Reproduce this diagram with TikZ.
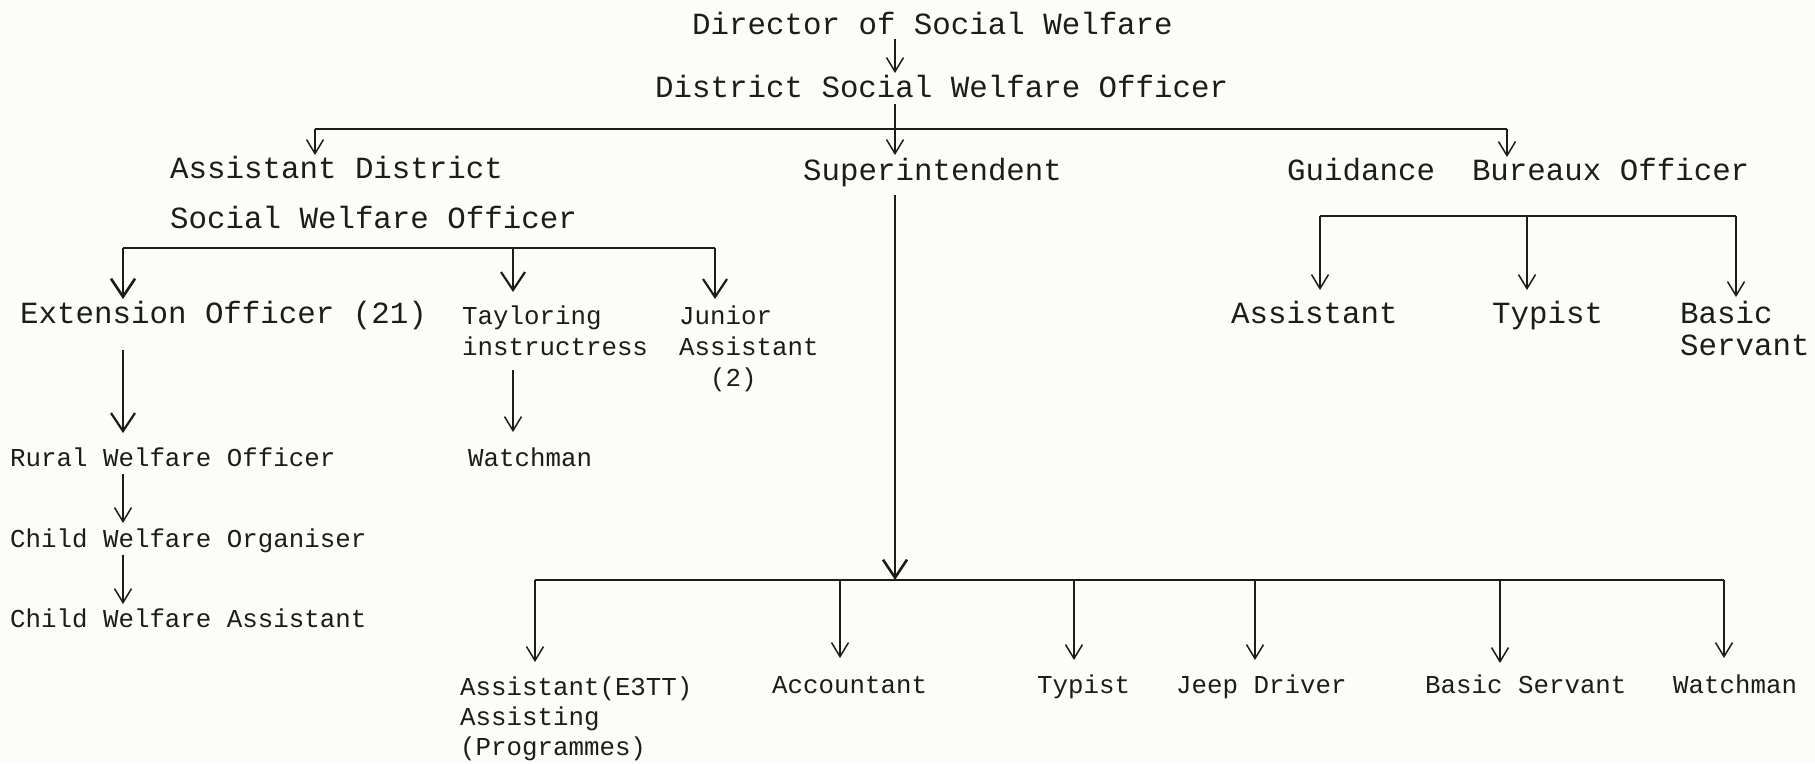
\documentclass[tikz,border=0pt]{standalone}
\usepackage{fontspec}
\setmainfont{Liberation Mono}
\usetikzlibrary{arrows.meta}
\definecolor{ink}{RGB}{28,28,28}
\definecolor{paper}{RGB}{252,252,248}
\begin{document}
\begin{tikzpicture}[x=1pt,y=-1pt,
  big/.style={font=\fontsize{30.8}{32}\selectfont, anchor=base west, inner sep=0pt, text=ink, align=left},
  small/.style={font=\fontsize{25.8}{31}\selectfont, anchor=base west, inner sep=0pt, text=ink, align=left},
  bus/.style={draw=ink, line width=2pt},
  arr/.style={draw=ink, line width=1.5pt, -{Straight Barb[length=14pt,width=17pt,line width=1.5pt]}},
  marr/.style={draw=ink, line width=1.6pt, -{Straight Barb[length=18pt,width=24pt,line width=2.2pt]}},
  barr/.style={draw=ink, line width=2pt, -{Straight Barb[length=18pt,width=24pt,line width=2.6pt]}}]
\useasboundingbox[fill=paper] (0,0) rectangle (1815,763);

% ---------- nodes (anchor = baseline of the last line) ----------
\node[big] (dir) at (692,34) {Director of Social Welfare};
\node[big] (dsw) at (655,97) {District Social Welfare Officer};
\node[big, font=\fontsize{30.8}{50}\selectfont] (adsw) at (170,228) {Assistant District\\Social Welfare Officer};
\node[big] (sup) at (803,180) {Superintendent};
\node[big] (gbo) at (1287,180) {Guidance\ \ Bureaux Officer};
\node[big] (gass) at (1231,323) {Assistant};
\node[big] (gtyp) at (1492,323) {Typist};
\node[big] (gbs) at (1680,355) {Basic\\Servant};
\node[big] (ext) at (20,323) {Extension Officer (21)};
\node[small] (tay) at (462,355) {Tayloring\\instructress};
\node[small] (jun) at (679,386) {Junior\\Assistant\\\hspace*{31pt}(2)};
\node[small] (rwo) at (10,466) {Rural Welfare Officer};
\node[small] (wat1) at (468,466) {Watchman};
\node[small] (cwo) at (10,547) {Child Welfare Organiser};
\node[small] (cwa) at (10,627) {Child Welfare Assistant};
\node[small, font=\fontsize{25.8}{30}\selectfont] (aet) at (460,755) {Assistant(E3TT)\\Assisting\\(Programmes)};
\node[small] (acc) at (772,693) {Accountant};
\node[small] (typ) at (1037,693) {Typist};
\node[small] (jeep) at (1176,693) {Jeep Driver};
\node[small] (bsv) at (1425,693) {Basic Servant};
\node[small] (wat2) at (1673,693) {Watchman};

% ---------- coordinates ----------
\coordinate (d0) at (895,39);   \coordinate (d1) at (895,73);
\coordinate (m0) at (895,104);  \coordinate (m1) at (895,155);
\coordinate (tl) at (315,129);  \coordinate (tr) at (1507,129);
\coordinate (tadsw) at (315,155); \coordinate (tgbo) at (1507,157);

\coordinate (gl) at (1320,216); \coordinate (gm) at (1527,216); \coordinate (gr) at (1736,216);
\coordinate (tgass) at (1320,290); \coordinate (tgtyp) at (1527,290); \coordinate (tgbs) at (1736,297);

\coordinate (ll) at (123,248); \coordinate (lm) at (513,248); \coordinate (lr) at (715,248);
\coordinate (text) at (123,299); \coordinate (ttay) at (513,292); \coordinate (tjun) at (715,299);

\coordinate (e0) at (123,350); \coordinate (e1) at (123,433);
\coordinate (r0) at (123,474); \coordinate (r1) at (123,523);
\coordinate (o0) at (123,555); \coordinate (o1) at (123,604);
\coordinate (w0) at (513,370); \coordinate (w1) at (513,432);

\coordinate (s0) at (895,195); \coordinate (s1) at (895,580);
\coordinate (bl) at (535,580); \coordinate (br) at (1724,580);
\coordinate (b2) at (840,580); \coordinate (b3) at (1074,580); \coordinate (b4) at (1255,580); \coordinate (b5) at (1500,580);
\coordinate (tb1) at (535,662); \coordinate (tb2) at (840,658); \coordinate (tb3) at (1074,660);
\coordinate (tb4) at (1255,660); \coordinate (tb5) at (1500,663); \coordinate (tb6) at (1724,658);

% ---------- connectors ----------
\draw[arr] (d0) -- (d1);
\draw[bus] (tl) -- (tr);
\draw[arr] (m0) -- (m1);
\draw[arr] (tl) -- (tadsw);
\draw[arr] (tr) -- (tgbo);

\draw[bus] (gl) -- (gr);
\draw[arr] (gl) -- (tgass);
\draw[arr] (gm) -- (tgtyp);
\draw[arr] (gr) -- (tgbs);

\draw[bus] (ll) -- (lr);
\draw[barr] (ll) -- (text);
\draw[marr] (lm) -- (ttay);
\draw[marr] (lr) -- (tjun);

\draw[marr] (e0) -- (e1);
\draw[arr] (r0) -- (r1);
\draw[arr] (o0) -- (o1);
\draw[arr] (w0) -- (w1);

\draw[barr] (s0) -- (s1);
\draw[bus] (bl) -- (br);
\draw[arr] (bl) -- (tb1);
\draw[arr] (b2) -- (tb2);
\draw[arr] (b3) -- (tb3);
\draw[arr] (b4) -- (tb4);
\draw[arr] (b5) -- (tb5);
\draw[arr] (br) -- (tb6);
\end{tikzpicture}
\end{document}
